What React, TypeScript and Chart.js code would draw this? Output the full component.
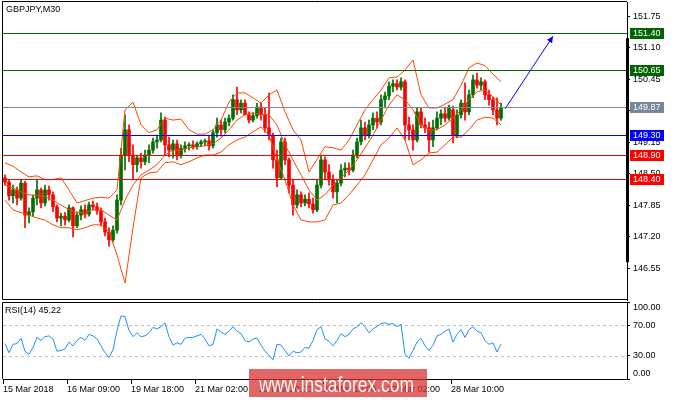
import React, { useEffect, useRef } from 'react';
import { Chart, registerables } from 'chart.js';

Chart.register(...registerables);

const FONT = 'Liberation Sans';

// ---- candles (one candle = 2 hours of M30 bars) ----
const OPEN = [
  148.42, 148.33, 148.05, 148.17, 148.00, 148.31, 147.65, 147.72, 148.00, 148.17,
  147.90, 148.17, 148.07, 147.82, 147.59, 147.63, 147.55, 147.80, 147.43, 147.65,
  147.76, 147.67, 147.86, 147.82, 147.74, 147.51, 147.30, 147.14, 147.34, 147.96,
  148.89, 149.41, 148.89, 148.69, 148.83, 148.75, 148.89, 148.99, 149.16, 149.20,
  149.61, 149.10, 148.99, 149.12, 148.89, 149.03, 149.08, 149.10, 149.06, 149.12,
  149.16, 149.18, 149.08, 149.35, 149.51, 149.41, 149.57, 149.65, 150.03, 149.82,
  149.96, 149.72, 149.61, 149.70, 149.88, 149.72, 149.45, 149.30, 148.79, 148.42,
  149.16, 148.79, 148.27, 147.86, 148.07, 147.90, 147.98, 147.88, 147.76, 148.27,
  148.79, 148.54, 148.38, 148.13, 148.31, 148.58, 148.62, 148.58, 148.89, 149.16,
  149.45, 149.30, 149.51, 149.65, 149.57, 150.03, 150.11, 150.31, 150.36, 150.29,
  150.40, 149.51, 149.41, 149.20, 149.78, 149.51, 149.45, 149.20, 149.45, 149.65,
  149.74, 149.65, 149.82, 149.30, 149.72, 149.96, 149.78, 150.13, 150.44, 150.33,
  150.40, 150.13, 150.03, 149.82, 149.65,
];
const HIGH = [
  148.48, 148.38, 148.27, 148.23, 148.38, 148.35, 147.80, 148.07, 148.38, 148.21,
  148.27, 148.25, 148.13, 147.86, 147.69, 147.71, 147.86, 147.82, 147.72, 147.84,
  147.86, 147.92, 147.94, 147.90, 147.80, 147.59, 147.39, 147.43, 148.07, 149.03,
  149.72, 149.51, 149.10, 148.89, 148.93, 148.99, 149.10, 149.24, 149.30, 149.76,
  149.67, 149.26, 149.20, 149.20, 149.10, 149.16, 149.14, 149.18, 149.16, 149.20,
  149.22, 149.30, 149.41, 149.65, 149.61, 149.65, 149.72, 150.13, 150.29, 150.03,
  150.03, 149.78, 149.76, 149.96, 149.96, 149.86, 150.17, 149.34, 148.99, 149.24,
  149.24, 148.83, 148.38, 148.17, 148.13, 148.07, 148.11, 148.00, 148.38, 148.89,
  148.85, 148.69, 148.48, 148.38, 148.69, 148.73, 148.73, 148.99, 149.24, 149.61,
  149.57, 149.61, 149.76, 149.78, 150.13, 150.19, 150.40, 150.44, 150.44, 150.48,
  150.44, 149.67, 149.51, 149.86, 149.86, 149.65, 149.57, 149.61, 149.78, 149.82,
  149.86, 149.92, 149.90, 149.82, 150.03, 150.38, 150.23, 150.54, 150.58, 150.48,
  150.44, 150.23, 150.09, 150.07, 149.96,
];
const LOW = [
  148.27, 147.96, 147.90, 147.86, 147.96, 147.39, 147.49, 147.63, 147.86, 147.80,
  147.84, 147.96, 147.72, 147.51, 147.43, 147.45, 147.51, 147.20, 147.39, 147.55,
  147.59, 147.63, 147.76, 147.67, 147.43, 147.22, 147.01, 147.10, 147.28, 147.86,
  148.58, 148.75, 148.38, 148.54, 148.62, 148.69, 148.73, 148.93, 149.03, 149.16,
  148.89, 148.85, 148.83, 148.79, 148.83, 148.95, 148.99, 149.01, 149.01, 149.06,
  149.08, 148.99, 149.03, 149.26, 149.28, 149.35, 149.49, 149.61, 149.72, 149.76,
  149.72, 149.55, 149.57, 149.65, 149.61, 149.36, 149.20, 148.62, 148.23, 148.38,
  148.69, 148.11, 147.65, 147.80, 147.82, 147.84, 147.80, 147.69, 147.72, 148.21,
  148.38, 148.27, 148.00, 147.90, 148.25, 148.44, 148.48, 148.54, 148.83, 149.10,
  149.20, 149.24, 149.41, 149.45, 149.51, 149.86, 150.03, 150.19, 150.23, 150.23,
  149.20, 149.20, 148.99, 149.16, 149.45, 149.35, 148.95, 149.06, 149.41, 149.51,
  149.57, 149.61, 149.14, 149.24, 149.65, 149.61, 149.72, 150.07, 150.27, 150.23,
  150.03, 149.92, 149.72, 149.51, 149.61,
];
const CLOSE = [
  148.33, 148.05, 148.17, 148.00, 148.31, 147.65, 147.72, 148.00, 148.17, 147.90,
  148.17, 148.07, 147.82, 147.59, 147.63, 147.55, 147.80, 147.43, 147.65, 147.76,
  147.67, 147.86, 147.82, 147.74, 147.51, 147.30, 147.14, 147.34, 147.96, 148.89,
  149.41, 148.89, 148.69, 148.83, 148.75, 148.89, 148.99, 149.16, 149.20, 149.61,
  149.10, 148.99, 149.12, 148.89, 149.03, 149.08, 149.10, 149.06, 149.12, 149.16,
  149.18, 149.08, 149.35, 149.51, 149.41, 149.57, 149.65, 150.03, 149.82, 149.96,
  149.72, 149.61, 149.70, 149.88, 149.72, 149.45, 149.30, 148.79, 148.42, 149.16,
  148.79, 148.27, 147.86, 148.07, 147.90, 147.98, 147.88, 147.76, 148.27, 148.79,
  148.54, 148.38, 148.13, 148.31, 148.58, 148.62, 148.58, 148.89, 149.16, 149.45,
  149.30, 149.51, 149.65, 149.57, 150.03, 150.11, 150.31, 150.36, 150.29, 150.40,
  149.51, 149.41, 149.20, 149.78, 149.51, 149.45, 149.20, 149.45, 149.65, 149.74,
  149.65, 149.86, 149.30, 149.72, 149.96, 149.78, 150.13, 150.44, 150.33, 150.40,
  150.13, 150.03, 149.82, 149.65, 149.87,
];

// ---- Bollinger bands, sampled every 2 candles ----
const BAND_STEP = 2;
const BB_UPPER = [
  148.73, 148.66, 148.54, 148.44, 148.46, 148.38, 148.38, 148.42, 148.17, 147.90,
  147.95, 148.00, 148.02, 148.00, 148.17, 149.82, 149.98, 149.51, 149.35, 149.41,
  149.65, 149.61, 149.63, 149.41, 149.32, 149.32, 149.41, 149.61, 149.98, 150.17,
  150.17, 150.07, 149.96, 150.13, 150.23, 149.78, 149.41, 149.20, 148.54, 148.80,
  149.06, 149.04, 148.99, 149.20, 149.51, 149.82, 150.03, 150.23, 150.48, 150.50,
  150.64, 150.85, 150.13, 149.86, 149.86, 149.94, 150.03, 150.33, 150.69, 150.79,
  150.73, 150.56, 150.40,
];
const BB_MIDDLE = [
  148.27, 148.21, 148.13, 148.07, 148.05, 148.03, 147.96, 147.86, 147.76, 147.70,
  147.70, 147.76, 147.76, 147.65, 147.55, 147.96, 148.27, 148.48, 148.58, 148.69,
  148.89, 148.99, 148.99, 149.04, 149.06, 149.08, 149.12, 149.24, 149.41, 149.61,
  149.72, 149.76, 149.72, 149.72, 149.51, 149.10, 148.79, 148.48, 148.17, 147.96,
  148.07, 148.27, 148.42, 148.58, 148.79, 149.04, 149.30, 149.61, 149.92, 150.13,
  150.03, 149.82, 149.51, 149.41, 149.41, 149.51, 149.65, 149.82, 150.03, 150.19,
  150.23, 150.09, 149.92,
];
const BB_LOWER = [
  147.96, 147.76, 147.70, 147.65, 147.59, 147.55, 147.45, 147.39, 147.39, 147.35,
  147.39, 147.45, 147.45, 147.31, 146.83, 146.25, 147.39, 148.42, 148.52, 148.54,
  148.73, 148.75, 148.69, 148.75, 148.83, 148.89, 148.89, 148.95, 149.10, 149.20,
  149.26, 149.37, 149.47, 149.30, 148.79, 148.38, 147.86, 147.55, 147.51, 147.51,
  147.55, 147.86, 147.90, 148.07, 148.27, 148.48, 148.79, 149.10, 149.24, 149.45,
  149.20, 148.69, 148.79, 148.93, 148.95, 149.10, 149.26, 149.26, 149.41, 149.61,
  149.67, 149.65, 149.51,
];

// ---- RSI(14), one value per candle ----
const RSI = [
  46, 34, 45, 46, 53, 36, 32, 41, 54, 50,
  55, 56, 52, 36, 37, 39, 48, 43, 50, 54,
  50, 58, 56, 52, 43, 34, 28, 38, 63, 82,
  81, 63, 55, 60, 55, 56, 60, 67, 65, 68,
  73, 55, 44, 47, 45, 53, 54, 54, 56, 58,
  52, 43, 45, 65, 61, 58, 62, 68, 62, 59,
  50, 48, 52, 53, 44, 36, 31, 25, 45, 44,
  37, 30, 36, 34, 35, 41, 40, 50, 64, 68,
  52, 49, 43, 50, 59, 55, 58, 65, 68, 73,
  68, 60, 65, 68, 72, 73, 71, 72, 68, 71,
  32, 27, 37, 48, 53, 43, 37, 44, 56, 58,
  62, 65, 48, 58, 64, 54, 64, 68, 62, 60,
  50, 45, 47, 35, 45.22,
];
const RSI_LABEL = 'RSI(14) 45.22';

// ---- levels, ticks, labels ----
const LEVELS = [151.40, 150.65, 149.87, 149.30, 148.90, 148.40];
const LEVEL_COLORS = ['#006400', '#006400', '#778899', '#0000ff', '#ff0000', '#ff0000'];
const PRICE_TICKS = [151.75, 151.10, 150.45, 149.80, 149.15, 148.50, 147.85, 147.20, 146.55];
const RSI_TICKS = [100, 70, 30, 0];
const RSI_LEVELS = [70, 30];
const DATE_LABELS = ['15 Mar 2018', '16 Mar 09:00', '19 Mar 18:00', '21 Mar 02:00', '22 Mar 10:00', '23 Mar 18:00', '27 Mar 02:00', '28 Mar 10:00'];
const DATE_CANDLE = [0, 16, 32, 48, 64, 80, 96, 112];
const ARROW_X = [125, 137];
const ARROW_Y = [149.84, 151.34];
const AXIS_BAR = [146.68, 151.30];
const TITLE = 'GBPJPY,M30';
const WATERMARK = 'www.instaforex.com';

const X_MIN = -0.5;
const X_MAX = 155.5;

const UP = '#007000';
const DOWN = '#ff0000';

const fixAxis = (w: number | null, h: number | null) => (s: any) => {
  if (w !== null) s.width = w;
  if (h !== null) s.height = h;
  s.paddingTop = 0;
  s.paddingBottom = 0;
  s.paddingLeft = 0;
  s.paddingRight = 0;
};

const mainDecor = {
  id: 'mainDecor',
  afterDatasetsDraw(chart: any) {
    const { ctx, chartArea: a, scales } = chart;
    const y = scales.y;
    ctx.save();
    LEVELS.forEach((v, i) => {
      const py = Math.round(y.getPixelForValue(v)) + 0.5;
      ctx.strokeStyle = LEVEL_COLORS[i];
      ctx.lineWidth = 1;
      ctx.beginPath();
      ctx.moveTo(a.left, py);
      ctx.lineTo(a.right, py);
      ctx.stroke();
    });
    const meta = chart.getDatasetMeta(0);
    const pts = meta.data;
    if (pts.length >= 2) {
      const p0 = pts[pts.length - 2];
      const p1 = pts[pts.length - 1];
      const ang = Math.atan2(p1.y - p0.y, p1.x - p0.x);
      const L = 7;
      ctx.fillStyle = '#0000ff';
      ctx.beginPath();
      ctx.moveTo(p1.x, p1.y);
      ctx.lineTo(p1.x - L * Math.cos(ang - 0.45), p1.y - L * Math.sin(ang - 0.45));
      ctx.lineTo(p1.x - L * Math.cos(ang + 0.45), p1.y - L * Math.sin(ang + 0.45));
      ctx.closePath();
      ctx.fill();
    }
    ctx.restore();
  },
  afterDraw(chart: any) {
    const { ctx, chartArea: a, scales } = chart;
    const y = scales.y;
    ctx.save();
    ctx.strokeStyle = '#000';
    ctx.lineWidth = 1;
    ctx.beginPath();
    ctx.moveTo(a.right, a.top - 0.5);
    ctx.lineTo(a.left - 0.5, a.top - 0.5);
    ctx.lineTo(a.left - 0.5, a.bottom - 0.5);
    ctx.lineTo(a.right, a.bottom - 0.5);
    ctx.stroke();
    const t = y.getPixelForValue(AXIS_BAR[1]);
    const b = y.getPixelForValue(AXIS_BAR[0]);
    ctx.fillStyle = '#000';
    ctx.fillRect(a.right - 1, t, 3, b - t);
    ctx.font = `9px "${FONT}"`;
    ctx.textBaseline = 'middle';
    ctx.textAlign = 'left';
    LEVELS.forEach((v, i) => {
      const py = Math.round(y.getPixelForValue(v));
      ctx.fillStyle = LEVEL_COLORS[i];
      ctx.fillRect(a.right + 3, py - 5, 34, 11);
      ctx.fillStyle = '#fff';
      ctx.fillText(v.toFixed(2), a.right + 6, py + 0.5);
    });
    ctx.fillStyle = '#000';
    ctx.fillText(TITLE, 6, 10);
    ctx.restore();
  },
};

const rsiDecor = {
  id: 'rsiDecor',
  beforeDatasetsDraw(chart: any) {
    const { ctx, chartArea: a, scales } = chart;
    const y = scales.y;
    ctx.save();
    ctx.strokeStyle = '#c0c0c0';
    ctx.lineWidth = 1;
    ctx.setLineDash([3, 3]);
    RSI_LEVELS.forEach((v) => {
      const py = Math.round(y.getPixelForValue(v)) + 0.5;
      ctx.beginPath();
      ctx.moveTo(a.left, py);
      ctx.lineTo(a.right, py);
      ctx.stroke();
    });
    ctx.restore();
  },
  afterDraw(chart: any) {
    const { ctx, chartArea: a, scales } = chart;
    const y = scales.y;
    ctx.save();
    ctx.strokeStyle = '#000';
    ctx.lineWidth = 1;
    ctx.beginPath();
    ctx.moveTo(a.right, a.top + 0.5);
    ctx.lineTo(a.left - 0.5, a.top + 0.5);
    ctx.lineTo(a.left - 0.5, a.bottom);
    ctx.stroke();
    ctx.font = `9px "${FONT}"`;
    ctx.fillStyle = '#000';
    ctx.textBaseline = 'middle';
    ctx.textAlign = 'left';
    ctx.fillText(RSI_LABEL, 5, 10);
    RSI_TICKS.forEach((v) => {
      let py = y.getPixelForValue(v);
      py = Math.min(Math.max(py, a.top + 6), a.bottom - 5);
      ctx.fillText(v.toFixed(2), a.right + 6, py);
    });
    ctx.fillStyle = 'rgba(216, 48, 48, 0.74)';
    ctx.fillRect(249, 68, 178, 28);
    ctx.fillStyle = 'rgba(255,255,255,0.96)';
    ctx.font = `22px "${FONT}"`;
    ctx.textBaseline = 'alphabetic';
    ctx.fillText(WATERMARK, 259, 91, 155);
    ctx.restore();
  },
};

export default function App() {
  const mainRef = useRef<HTMLCanvasElement>(null);
  const rsiRef = useRef<HTMLCanvasElement>(null);

  useEffect(() => {
    const colors = OPEN.map((o, i) => (CLOSE[i] >= o ? UP : DOWN));
    const band = (arr: number[]) => arr.map((v, k) => ({ x: k * BAND_STEP, y: v }));
    const lineBase = { type: 'line', pointRadius: 0, borderWidth: 1, tension: 0, fill: false };

    const main = new Chart(mainRef.current as HTMLCanvasElement, {
      type: 'bar',
      data: {
        datasets: [
          { ...lineBase, data: ARROW_X.map((x, i) => ({ x, y: ARROW_Y[i] })), borderColor: '#0000ff' },
          { ...lineBase, data: band(BB_UPPER), borderColor: '#ff4500' },
          { ...lineBase, data: band(BB_MIDDLE), borderColor: '#ff4500' },
          { ...lineBase, data: band(BB_LOWER), borderColor: '#ff4500' },
          {
            type: 'bar',
            data: OPEN.map((o, i) => ({ x: i, y: [o, CLOSE[i]] })),
            backgroundColor: colors,
            barThickness: 3,
            grouped: false,
            minBarLength: 1,
          },
          {
            type: 'bar',
            data: LOW.map((l, i) => ({ x: i, y: [l, HIGH[i]] })),
            backgroundColor: colors,
            barThickness: 1,
            grouped: false,
          },
        ] as any,
      },
      options: {
        responsive: false,
        animation: false,
        devicePixelRatio: 1,
        layout: { padding: { left: 3, top: 2, right: 0, bottom: 1 } },
        plugins: { legend: { display: false }, tooltip: { enabled: false } },
        scales: {
          x: { type: 'linear', display: false, min: X_MIN, max: X_MAX, offset: false },
          y: {
            type: 'linear',
            position: 'right',
            min: 145.9,
            max: 152.045,
            afterFit: fixAxis(48, null),
            afterBuildTicks: (s: any) => { s.ticks = PRICE_TICKS.map((v) => ({ value: v })); },
            ticks: {
              callback: (v: any) => Number(v).toFixed(2),
              font: { family: FONT, size: 9 },
              color: '#000',
              padding: 3,
              autoSkip: false,
            },
            grid: { drawOnChartArea: false, drawTicks: true, tickLength: 3, color: '#000' },
            border: { display: true, color: '#000' },
          },
        },
      } as any,
      plugins: [mainDecor],
    });

    const rsi = new Chart(rsiRef.current as HTMLCanvasElement, {
      type: 'line',
      data: {
        datasets: [
          {
            data: RSI.map((v, i) => ({ x: i, y: v })),
            borderColor: '#1e90ff',
            borderWidth: 1,
            pointRadius: 0,
            tension: 0,
          },
        ] as any,
      },
      options: {
        responsive: false,
        animation: false,
        devicePixelRatio: 1,
        layout: { padding: { left: 3, top: 1, right: 0, bottom: 0 } },
        plugins: { legend: { display: false }, tooltip: { enabled: false } },
        scales: {
          x: {
            type: 'linear',
            min: X_MIN,
            max: X_MAX,
            offset: false,
            afterBuildTicks: (s: any) => { s.ticks = DATE_CANDLE.map((c) => ({ value: c - 0.5 })); },
            afterFit: fixAxis(null, 21),
            ticks: {
              callback: (_v: any, i: number) => DATE_LABELS[i],
              align: 'start',
              maxRotation: 0,
              autoSkip: false,
              font: { family: FONT, size: 9 },
              color: '#000',
              padding: 0,
            },
            grid: { drawOnChartArea: false, drawTicks: true, tickLength: 5, color: '#000' },
            border: { display: true, color: '#000' },
          },
          y: {
            type: 'linear',
            position: 'right',
            min: 0,
            max: 100,
            afterFit: fixAxis(48, null),
            afterBuildTicks: (s: any) => { s.ticks = RSI_TICKS.map((v) => ({ value: v })); },
            ticks: { display: false },
            grid: { drawOnChartArea: false, drawTicks: true, tickLength: 3, color: '#000' },
            border: { display: true, color: '#000' },
          },
        },
      } as any,
      plugins: [rsiDecor],
    });

    return () => {
      main.destroy();
      rsi.destroy();
    };
  }, []);

  return (
    <div style={{ position: 'fixed', left: 0, top: 0, width: 675, height: 400, background: '#fff' }}>
      <canvas ref={mainRef} width={675} height={301} style={{ position: 'absolute', left: 0, top: 0 }} />
      <canvas ref={rsiRef} width={675} height={99} style={{ position: 'absolute', left: 0, top: 301 }} />
    </div>
  );
}
